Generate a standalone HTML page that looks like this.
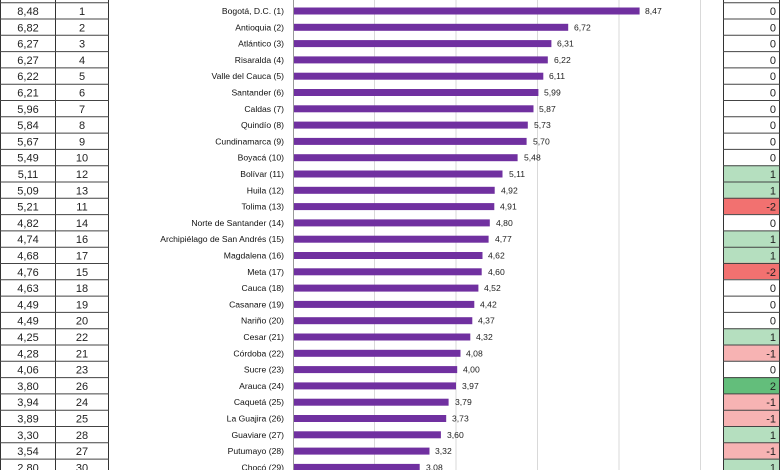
<!DOCTYPE html>
<html><head><meta charset="utf-8"><style>
html,body{margin:0;padding:0;background:#fff;}
svg{display:block;}
text{font-family:"Liberation Sans",sans-serif;}
.t{font-size:11px;fill:#222;}
.l{font-size:8.6px;fill:#111;}
.v{font-size:8.6px;fill:#222;}
</style></head><body>
<svg width="780" height="470" viewBox="0 0 780 470" xmlns="http://www.w3.org/2000/svg">
<g stroke="#d9d9d9" stroke-width="1">
<line x1="374.5" y1="0" x2="374.5" y2="470"/><line x1="456" y1="0" x2="456" y2="470"/><line x1="537.5" y1="0" x2="537.5" y2="470"/><line x1="619" y1="0" x2="619" y2="470"/><line x1="700.5" y1="0" x2="700.5" y2="470"/>
</g>
<line x1="293.5" y1="0" x2="293.5" y2="470" stroke="#999" stroke-width="1"/>
<!-- right table fills -->
<g>
<rect x="723" y="165.3" width="57" height="32.6" fill="#b5dfbf"/>
<rect x="723" y="197.9" width="57" height="16.3" fill="#f27170"/>
<rect x="723" y="230.5" width="57" height="32.6" fill="#b5dfbf"/>
<rect x="723" y="262.8" width="57" height="16.3" fill="#f27170"/>
<rect x="723" y="328.3" width="57" height="16.3" fill="#b5dfbf"/>
<rect x="723" y="344.6" width="57" height="16.3" fill="#f7b3b3"/>
<rect x="723" y="377.2" width="57" height="16.3" fill="#63be7b"/>
<rect x="723" y="393.5" width="57" height="32.6" fill="#f7b3b3"/>
<rect x="723" y="426.1" width="57" height="16.3" fill="#b5dfbf"/>
<rect x="723" y="442.4" width="57" height="16.3" fill="#f7b3b3"/>
<rect x="723" y="458.7" width="57" height="16.3" fill="#b5dfbf"/>
</g>
<!-- table grid -->
<g stroke="#333" stroke-width="1">
<line x1="0.5" y1="0" x2="0.5" y2="470"/><line x1="55.5" y1="0" x2="55.5" y2="470"/><line x1="108.5" y1="0" x2="108.5" y2="470"/>
<line x1="723.5" y1="0" x2="723.5" y2="470"/><line x1="779.5" y1="0" x2="779.5" y2="470"/>
</g>
<g stroke="#444" stroke-width="1">
<path d="M0 2.7H109M0 19H109M0 35.3H109M0 51.6H109M0 67.9H109M0 84.2H109M0 100.5H109M0 116.8H109M0 133.1H109M0 149.4H109M0 165.7H109M0 182H109M0 198.3H109M0 214.6H109M0 230.9H109M0 247.2H109M0 263.5H109M0 279.8H109M0 296.1H109M0 312.4H109M0 328.7H109M0 345H109M0 361.3H109M0 377.6H109M0 393.9H109M0 410.2H109M0 426.5H109M0 442.8H109M0 459.1H109"/>
<path d="M723 2.7H780M723 19H780M723 35.3H780M723 51.6H780M723 67.9H780M723 84.2H780M723 100.5H780M723 116.8H780M723 133.1H780M723 149.4H780M723 165.7H780M723 182H780M723 198.3H780M723 214.6H780M723 230.9H780M723 247.2H780M723 263.5H780M723 279.8H780M723 296.1H780M723 312.4H780M723 328.7H780M723 345H780M723 361.3H780M723 377.6H780M723 393.9H780M723 410.2H780M723 426.5H780M723 442.8H780M723 459.1H780"/>
</g>
<!-- bars -->
<g fill="#7030a0">
<rect x="294" y="7.5" width="345.6" height="7"/>
<rect x="294" y="23.8" width="274.2" height="7"/>
<rect x="294" y="40.1" width="257.4" height="7"/>
<rect x="294" y="56.4" width="253.8" height="7"/>
<rect x="294" y="72.7" width="249.3" height="7"/>
<rect x="294" y="89" width="244.4" height="7"/>
<rect x="294" y="105.3" width="239.5" height="7"/>
<rect x="294" y="121.6" width="233.8" height="7"/>
<rect x="294" y="137.9" width="232.6" height="7"/>
<rect x="294" y="154.2" width="223.6" height="7"/>
<rect x="294" y="170.5" width="208.5" height="7"/>
<rect x="294" y="186.8" width="200.7" height="7"/>
<rect x="294" y="203.1" width="200.3" height="7"/>
<rect x="294" y="219.4" width="195.8" height="7"/>
<rect x="294" y="235.7" width="194.6" height="7"/>
<rect x="294" y="252" width="188.5" height="7"/>
<rect x="294" y="268.3" width="187.7" height="7"/>
<rect x="294" y="284.6" width="184.4" height="7"/>
<rect x="294" y="300.9" width="180.3" height="7"/>
<rect x="294" y="317.2" width="178.3" height="7"/>
<rect x="294" y="333.5" width="176.3" height="7"/>
<rect x="294" y="349.8" width="166.5" height="7"/>
<rect x="294" y="366.1" width="163.2" height="7"/>
<rect x="294" y="382.4" width="162" height="7"/>
<rect x="294" y="398.7" width="154.6" height="7"/>
<rect x="294" y="415" width="152.2" height="7"/>
<rect x="294" y="431.3" width="146.9" height="7"/>
<rect x="294" y="447.6" width="135.5" height="7"/>
<rect x="294" y="463.9" width="125.7" height="7"/>
</g>
<!-- labels -->
<g class="l" text-anchor="end">
<text x="284" y="14">Bogotá, D.C. (1)</text>
<text x="284" y="30.3">Antioquia (2)</text>
<text x="284" y="46.6">Atlántico (3)</text>
<text x="284" y="62.9">Risaralda (4)</text>
<text x="284" y="79.2">Valle del Cauca (5)</text>
<text x="284" y="95.5">Santander (6)</text>
<text x="284" y="111.8">Caldas (7)</text>
<text x="284" y="128.1">Quindío (8)</text>
<text x="284" y="144.4">Cundinamarca (9)</text>
<text x="284" y="160.7">Boyacá (10)</text>
<text x="284" y="177">Bolívar (11)</text>
<text x="284" y="193.3">Huila (12)</text>
<text x="284" y="209.6">Tolima (13)</text>
<text x="284" y="225.9">Norte de Santander (14)</text>
<text x="284" y="242.2">Archipiélago de San Andrés (15)</text>
<text x="284" y="258.5">Magdalena (16)</text>
<text x="284" y="274.8">Meta (17)</text>
<text x="284" y="291.1">Cauca (18)</text>
<text x="284" y="307.4">Casanare (19)</text>
<text x="284" y="323.7">Nariño (20)</text>
<text x="284" y="340">Cesar (21)</text>
<text x="284" y="356.3">Córdoba (22)</text>
<text x="284" y="372.6">Sucre (23)</text>
<text x="284" y="388.9">Arauca (24)</text>
<text x="284" y="405.2">Caquetá (25)</text>
<text x="284" y="421.5">La Guajira (26)</text>
<text x="284" y="437.8">Guaviare (27)</text>
<text x="284" y="454.1">Putumayo (28)</text>
<text x="284" y="470.4">Chocó (29)</text>
</g>
<g class="v">
<text x="645" y="14">8,47</text>
<text x="574" y="30.3">6,72</text>
<text x="557" y="46.6">6,31</text>
<text x="554" y="62.9">6,22</text>
<text x="549" y="79.2">6,11</text>
<text x="544" y="95.5">5,99</text>
<text x="539" y="111.8">5,87</text>
<text x="534" y="128.1">5,73</text>
<text x="533" y="144.4">5,70</text>
<text x="524" y="160.7">5,48</text>
<text x="509" y="177">5,11</text>
<text x="501" y="193.3">4,92</text>
<text x="500" y="209.6">4,91</text>
<text x="496" y="225.9">4,80</text>
<text x="495" y="242.2">4,77</text>
<text x="488" y="258.5">4,62</text>
<text x="488" y="274.8">4,60</text>
<text x="484" y="291.1">4,52</text>
<text x="480" y="307.4">4,42</text>
<text x="478" y="323.7">4,37</text>
<text x="476" y="340">4,32</text>
<text x="466" y="356.3">4,08</text>
<text x="463" y="372.6">4,00</text>
<text x="462" y="388.9">3,97</text>
<text x="455" y="405.2">3,79</text>
<text x="452" y="421.5">3,73</text>
<text x="447" y="437.8">3,60</text>
<text x="435" y="454.1">3,32</text>
<text x="426" y="470.4">3,08</text>
</g>
<!-- left table -->
<g class="t" text-anchor="middle">
<text x="28" y="15">8,48</text><text x="82" y="15">1</text>
<text x="28" y="31.3">6,82</text><text x="82" y="31.3">2</text>
<text x="28" y="47.6">6,27</text><text x="82" y="47.6">3</text>
<text x="28" y="63.9">6,27</text><text x="82" y="63.9">4</text>
<text x="28" y="80.2">6,22</text><text x="82" y="80.2">5</text>
<text x="28" y="96.5">6,21</text><text x="82" y="96.5">6</text>
<text x="28" y="112.8">5,96</text><text x="82" y="112.8">7</text>
<text x="28" y="129.1">5,84</text><text x="82" y="129.1">8</text>
<text x="28" y="145.4">5,67</text><text x="82" y="145.4">9</text>
<text x="28" y="161.7">5,49</text><text x="82" y="161.7">10</text>
<text x="28" y="178">5,11</text><text x="82" y="178">12</text>
<text x="28" y="194.3">5,09</text><text x="82" y="194.3">13</text>
<text x="28" y="210.6">5,21</text><text x="82" y="210.6">11</text>
<text x="28" y="226.9">4,82</text><text x="82" y="226.9">14</text>
<text x="28" y="243.2">4,74</text><text x="82" y="243.2">16</text>
<text x="28" y="259.5">4,68</text><text x="82" y="259.5">17</text>
<text x="28" y="275.8">4,76</text><text x="82" y="275.8">15</text>
<text x="28" y="292.1">4,63</text><text x="82" y="292.1">18</text>
<text x="28" y="308.4">4,49</text><text x="82" y="308.4">19</text>
<text x="28" y="324.7">4,49</text><text x="82" y="324.7">20</text>
<text x="28" y="341">4,25</text><text x="82" y="341">22</text>
<text x="28" y="357.3">4,28</text><text x="82" y="357.3">21</text>
<text x="28" y="373.6">4,06</text><text x="82" y="373.6">23</text>
<text x="28" y="389.9">3,80</text><text x="82" y="389.9">26</text>
<text x="28" y="406.2">3,94</text><text x="82" y="406.2">24</text>
<text x="28" y="422.5">3,89</text><text x="82" y="422.5">25</text>
<text x="28" y="438.8">3,30</text><text x="82" y="438.8">28</text>
<text x="28" y="455.1">3,54</text><text x="82" y="455.1">27</text>
<text x="28" y="471.4">2,80</text><text x="82" y="471.4">30</text>
</g>
<g class="t" text-anchor="end">
<text x="776" y="15">0</text><text x="776" y="31.3">0</text><text x="776" y="47.6">0</text><text x="776" y="63.9">0</text><text x="776" y="80.2">0</text><text x="776" y="96.5">0</text><text x="776" y="112.8">0</text><text x="776" y="129.1">0</text><text x="776" y="145.4">0</text><text x="776" y="161.7">0</text>
<text x="776" y="178">1</text><text x="776" y="194.3">1</text><text x="776" y="210.6">-2</text><text x="776" y="226.9">0</text><text x="776" y="243.2">1</text><text x="776" y="259.5">1</text><text x="776" y="275.8">-2</text><text x="776" y="292.1">0</text><text x="776" y="308.4">0</text><text x="776" y="324.7">0</text>
<text x="776" y="341">1</text><text x="776" y="357.3">-1</text><text x="776" y="373.6">0</text><text x="776" y="389.9">2</text><text x="776" y="406.2">-1</text><text x="776" y="422.5">-1</text><text x="776" y="438.8">1</text><text x="776" y="455.1">-1</text><text x="776" y="471.4">1</text>
</g>
</svg>
</body></html>
